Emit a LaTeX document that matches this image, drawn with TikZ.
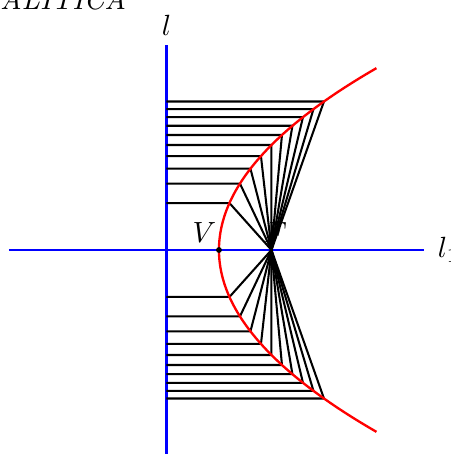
\documentclass[tikz,border=0pt]{standalone}
\usetikzlibrary{positioning}
\tikzset{
  every picture/.style={line width=0.7pt},
  axisline/.style={draw=blue, line width=0.8pt},
  curve/.style={draw=red, line width=0.8pt},
  ray/.style={draw=black, line width=0.7pt},
  dot/.style={circle, fill=black, inner sep=0pt, minimum size=2pt},
  lbl/.style={inner sep=2pt},
}

\begin{document}
\begin{tikzpicture}[x=17.96pt, y=17.96pt]
  \useasboundingbox (-4.171,-3.886) rectangle (4.419,4.762);
  % ---------- title (cut off) ----------
  \node[anchor=base west, inner sep=0pt] (title) at (-4.19, 4.58) {\textit{ALITICA}};
  % ---------- axes ----------
  \coordinate (dtop) at (-1, 3.9);
  \coordinate (dbot) at (-1, -4.2);
  \coordinate (aleft) at (-4, 0);
  \coordinate (aright) at (3.9, 0);
  \draw[axisline] (dbot) -- (dtop);
  \draw[axisline] (aleft) -- (aright);
  \node[lbl, above=1pt of dtop] (l) {$l$};
  \node[lbl, right=2.5pt of aright] (l1) {$l_1$};
  % ---------- vertex and focus ----------
  \coordinate (V) at (0, 0);
  \coordinate (F) at (1, 0);
  \node[lbl, anchor=south east] (Vlab) at (0.08, 0.02) {$V$};
  \node[lbl, anchor=south] (Flab) at (1.08, 0.02) {$F$};
  % ---------- rays ----------
  \foreach \k in {1,...,10} {
    \pgfmathsetmacro{\yy}{2*sqrt(0.2*\k)}
    \coordinate (D\k) at (-1, \yy);
    \coordinate (P\k) at (0.2*\k, \yy);
    \coordinate (E\k) at (-1, -\yy);
    \coordinate (Q\k) at (0.2*\k, -\yy);
    \draw[ray] (D\k) -- (P\k) -- (F);
    \draw[ray] (E\k) -- (Q\k) -- (F);
  }
  % ---------- parabola ----------
  \draw[curve, domain=-3.464:3.464, samples=80, smooth, variable=\t]
    plot ({\t*\t/4}, {\t});
  \node[dot] (Vdot) at (V) {};
\end{tikzpicture}
\end{document}
